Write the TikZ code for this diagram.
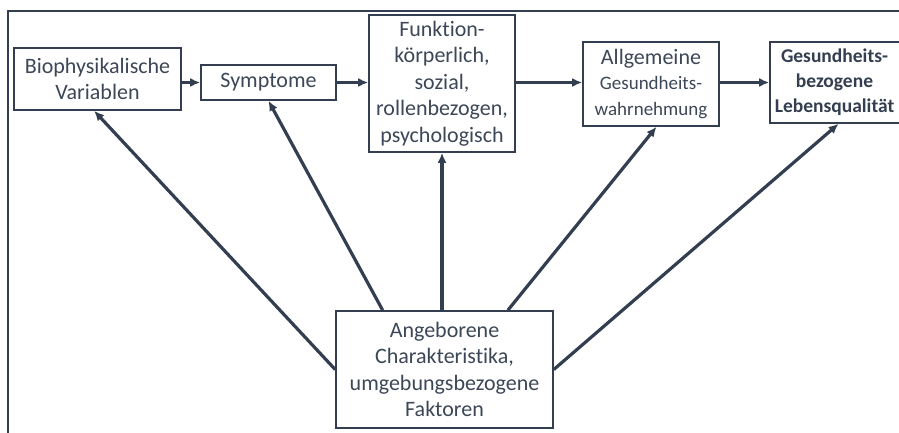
\documentclass[tikz,border=0pt]{standalone}
\usepackage{fontspec}
\setmainfont{Carlito}[Ligatures=NoCommon]
\usetikzlibrary{arrows.meta,calc}
\definecolor{linec}{HTML}{333F50}
\definecolor{textc}{HTML}{3C4757}
\begin{document}
\begin{tikzpicture}[x=1pt,y=-1pt,
  box/.style={draw=linec,line width=1.6pt,text=textc,align=center,inner sep=0pt,
    font=\fontsize{22}{26.5}\selectfont},
  arr/.style={draw=linec,line width=3.2pt,-{Latex[length=10pt,width=9pt]}}]
\useasboundingbox (0,0) rectangle (899,433);
\clip (0,0) rectangle (899,433);
\fill[white] (0,0) rectangle (899,433);
\draw[linec,line width=1.6pt] (8,433) -- (8,11) -- (905,11);
\node[box,minimum width=167pt,minimum height=62pt] (bio) at (97.5,79) {Biophysikalische\\Variablen};
\node[box,minimum width=135pt,minimum height=35pt] (sym) at (268.5,82.5) {Symptome};
\node[box,minimum width=146pt,minimum height=137pt] (fun) at (442,83.5) {Funktion-\\körperlich,\\sozial,\\rollenbezogen,\\psychologisch};
\node[box,minimum width=136pt,minimum height=84pt] (allg) at (651,84) {Allgemeine\\[-2pt]{\fontsize{19}{24.5}\selectfont Gesundheits-}\\{\fontsize{19}{24.5}\selectfont wahrnehmung}};
\node[box,minimum width=140pt,minimum height=81pt] (ges) at (840,82.5) {};
\node[text=linec,align=center,inner sep=0pt,font=\fontsize{19.5}{25}\selectfont\bfseries] (gestext) at (834.5,82.5) {Gesundheits-\\bezogene\\Lebensqualität};
\node[box,minimum width=217pt,minimum height=117pt] (ang) at (444.5,369.5) {Angeborene\\Charakteristika,\\umgebungsbezogene\\Faktoren};
\draw[arr] (bio.east |- sym.west) -- (sym.west);
\draw[arr] (sym.east) -- (sym.east -| fun.west);
\draw[arr] (fun.east |- sym.east) -- (allg.west |- sym.east);
\draw[arr] (allg.east |- sym.east) -- (ges.west |- sym.east);
\draw[arr] (ang.west) -- ($(bio.south west)!0.48!(bio.south east)$);
\draw[arr] ($(ang.north west)!0.217!(ang.north east)$) -- (sym.south);
\draw[arr] (ang.north -| fun.south) -- (fun.south);
\draw[arr] ($(ang.north west)!0.79!(ang.north east)$) -- ($(allg.south west)!0.54!(allg.south east)$);
\draw[arr] (ang.east) -- ($(ges.south west)!0.49!(ges.south east)$);
\end{tikzpicture}
\end{document}
